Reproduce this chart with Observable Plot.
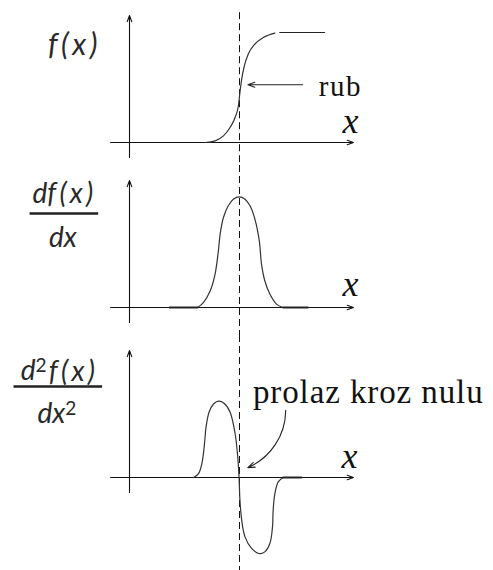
<!DOCTYPE html>
<html>
<head>
<meta charset="utf-8">
<script src="https://cdn.jsdelivr.net/npm/d3@7"></script>
<script src="https://cdn.jsdelivr.net/npm/@observablehq/plot@0.6"></script>
<style>
  html, body { margin: 0; padding: 0; background: #fff; }
  #chart { width: 493px; height: 570px; line-height: 0; }
  #chart svg { display: block; overflow: visible; }
</style>
</head>
<body>
<div id="chart"></div>
<script>
// ---- data (x in units: y-axis at 0, edge at 5; values normalised to f max = 1) ----
const fX  = [3.44, 3.89, 4.27, 4.57, 4.80, 4.95, 5.02, 5.10, 5.22, 5.40, 5.70, 6.08, 6.61];
const fV  = [0, 0.015, 0.06, 0.136, 0.227, 0.334, 0.455, 0.576, 0.697, 0.804, 0.895, 0.955, 0.995];
const fFlatX = [6.83, 8.87];
const fFlatV = [1, 1];

const dfX = [3.09, 3.36, 3.67, 3.89, 4.04, 4.12, 4.27, 4.49, 4.72, 4.99, 5.25, 5.48, 5.70, 5.90, 6.00, 6.15, 6.38, 6.68, 6.98];
const dfV = [0, 0.045, 0.152, 0.304, 0.515, 0.667, 0.818, 0.925, 0.985, 1.006, 0.985, 0.925, 0.804, 0.606, 0.394, 0.243, 0.122, 0.031, 0];
const dfFlatLeftX = [1.82, 3.09];
const dfFlatRightX = [6.98, 8.11];

const d2fX = [2.91, 3.14, 3.29, 3.41, 3.48, 3.62, 3.81, 4.04, 4.31, 4.57, 4.80, 4.92, 4.98, 5.02, 5.10, 5.25, 5.55, 5.88, 6.15, 6.38, 6.50, 6.53, 6.61, 6.76, 6.98];
const d2fV = [0, 0.036, 0.127, 0.309, 0.46, 0.596, 0.666, 0.694, 0.673, 0.596, 0.4, 0.187, 0, -0.206, -0.388, -0.54, -0.645, -0.691, -0.676, -0.6, -0.449, -0.297, -0.145, -0.04, 0];
const d2fFlatX = [6.98, 7.81];

const edgeX = 5;
const axisLabel = "x";
const label1 = "f\u2009(\u2009x\u2009)";
const label2Num = "df\u2009(\u2009x\u2009)";
const label2Den = "dx";
const label3Num = ["d", "2", "f\u2009(\u2009x\u2009)"];
const label3Den = ["dx", "2", ""];
const noteEdge = "rub";
const noteZero = "prolaz kroz nulu";

// ---- helpers ----
const pts = (xs, vs) => xs.map((x, i) => ({x, y: vs[i]}));
const W = 493;
const PX_PER_X = 22.0, ORIGIN_X = 129, PX_PER_Y = 110, ORIGIN_Y = 142;
const xDomain = [-ORIGIN_X / PX_PER_X, (W - ORIGIN_X) / PX_PER_X];
const ink = "#2a2a2a";
const curveStyle = {x: "x", y: "y", stroke: "#333", strokeWidth: 1.2, curve: "catmull-rom"};
const flatStyle = {x: "x", y: "y", stroke: "#222", strokeWidth: 1.8};
const sansLabel = {fontFamily: "Lato, 'Noto Sans', sans-serif", fontStyle: "italic", fontSize: 28, fill: ink, textAnchor: "middle", lineAnchor: "middle"};
const xLabelStyle = {fontFamily: "'Liberation Serif', serif", fontStyle: "italic", fontSize: 36, fill: "#111", textAnchor: "start", lineAnchor: "bottom"};
const noteStyle = {fontFamily: "'Liberation Serif', serif", fill: "#111", textAnchor: "start", lineAnchor: "bottom"};
const dashStyle = {stroke: "#111", strokeWidth: 1, strokeDasharray: "7,4"};

function axes() {
  return [
    Plot.arrow([0], {x1: -0.86, y1: 0, x2: 10.18, y2: 0, stroke: "#111", strokeWidth: 1.1, headLength: 9, headAngle: 40}),
    Plot.arrow([0], {x1: 0, y1: -0.136, x2: 0, y2: 1.155, stroke: "#111", strokeWidth: 1.1, headLength: 9, headAngle: 40})
  ];
}

function panel(height, marks) {
  return Plot.plot({
    width: W,
    height,
    margin: 0,
    x: {domain: xDomain, range: [0, W], axis: null},
    y: {domain: [-(height - ORIGIN_Y) / PX_PER_Y, ORIGIN_Y / PX_PER_Y], range: [height, 0], axis: null},
    style: {background: "transparent", overflow: "visible"},
    marks
  });
}

const joined = a => a.join("");

const p1 = panel(165, [
  Plot.ruleX([edgeX], {y1: 1.18, y2: -0.209, ...dashStyle}),
  ...axes(),
  Plot.line(pts(fX, fV), {...curveStyle, curve: "monotone-x"}),
  Plot.line(pts(fFlatX, fFlatV), {...flatStyle, strokeWidth: 1.2}),
  Plot.arrow([0], {x1: 7.87, y1: 0.525, x2: 5.38, y2: 0.525, stroke: "#222", strokeWidth: 1.1, headLength: 10, headAngle: 40}),
  Plot.text([noteEdge], {x: 8.6, y: 0.42, text: d => d, fontSize: 29, ...noteStyle}),
  Plot.text([axisLabel], {x: 9.68, y: 0.082, text: d => d, ...xLabelStyle}),
  Plot.text([label1], {x: -2.58, y: 0.88, text: d => d, ...sansLabel, fontSize: 30})
]);

const p2 = panel(170, [
  Plot.ruleX([edgeX], dashStyle),
  ...axes(),
  Plot.line(pts(dfX, dfV), curveStyle),
  Plot.line(pts(dfFlatLeftX, [0, 0]), flatStyle),
  Plot.line(pts(dfFlatRightX, [0, 0]), flatStyle),
  Plot.text([axisLabel], {x: 9.68, y: 0.109, text: d => d, ...xLabelStyle}),
  Plot.text([label2Num], {x: -3.03, y: 1.036, text: d => d, ...sansLabel}),
  Plot.ruleY([0.855], {x1: -4.52, x2: -1.40, stroke: "#222", strokeWidth: 2.6}),
  Plot.text([label2Den], {x: -3.03, y: 0.636, text: d => d, ...sansLabel})
]);

const p3 = panel(235, [
  Plot.ruleX([edgeX], dashStyle),
  ...axes(),
  Plot.line(pts(d2fX, d2fV), curveStyle),
  Plot.line(pts(d2fFlatX, [0, 0]), flatStyle),
  Plot.text([axisLabel], {x: 9.64, y: 0.082, text: d => d, ...xLabelStyle}),
  Plot.text([label3Num], {x: -3.26, y: 0.964, text: joined, ...sansLabel}),
  Plot.ruleY([0.827], {x1: -5.25, x2: -1.22, stroke: "#222", strokeWidth: 2.6}),
  Plot.text([label3Den], {x: -3.3, y: 0.58, text: joined, ...sansLabel}),
  Plot.text([noteZero], {x: 5.61, y: 0.68, text: d => d, fontSize: 33, ...noteStyle}),
  Plot.arrow([0], {x1: 7.10, y1: 0.61, x2: 5.38, y2: 0.09, bend: 33, stroke: "#222", strokeWidth: 1.1, headLength: 10, headAngle: 40})
]);

const chart = document.getElementById("chart");
chart.append(p1, p2, p3);

// letter spacing for the serif annotations (the reference face is wider)
d3.select(chart).selectAll("text")
  .filter(function() { return this.textContent === noteZero; })
  .style("letter-spacing", "0.9px");
d3.select(chart).selectAll("text")
  .filter(function() { return this.textContent === noteEdge; })
  .style("letter-spacing", "1.6px");

// real superscripts for the second-derivative label
function superscript(parts) {
  d3.select(chart).selectAll("text")
    .filter(function() { return this.textContent === joined(parts); })
    .each(function() {
      const t = d3.select(this);
      t.text(null);
      t.append("tspan").text(parts[0]);
      t.append("tspan").attr("dy", "-0.42em").attr("font-size", "0.68em").attr("font-style", "normal").text(parts[1]);
      if (parts[2]) t.append("tspan").attr("dy", "0.29em").attr("dx", "0.08em").text(parts[2]);
    });
}
superscript(label3Num);
superscript(label3Den);
</script>
</body>
</html>
